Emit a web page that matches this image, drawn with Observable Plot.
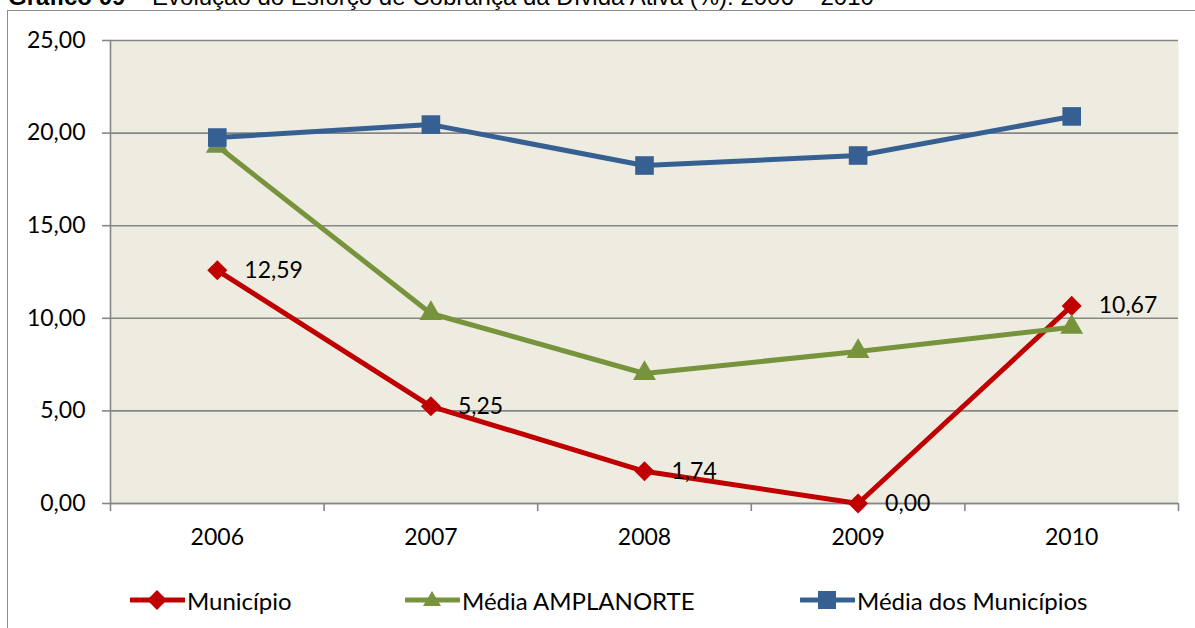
<!DOCTYPE html>
<html><head><meta charset="utf-8">
<script src="https://cdn.jsdelivr.net/npm/d3@7"></script>
<script src="https://cdn.jsdelivr.net/npm/@observablehq/plot@0.6"></script>
<style>
html,body{margin:0;padding:0;background:#fff;}
body{width:1195px;height:628px;overflow:hidden;position:relative;font-family:Lato,"Open Sans",sans-serif;}
#title{position:absolute;left:8px;top:-15px;font-size:24px;line-height:24px;font-family:"Liberation Sans",Arial,sans-serif;white-space:nowrap;color:#000;}
#frame{position:absolute;left:7px;top:10px;width:1300px;height:700px;border:1.5px solid #8c8c8c;}
#chart{position:absolute;left:0;top:0;}
.leg{position:absolute;top:586px;height:28px;display:flex;align-items:center;font-size:24px;color:#000;white-space:nowrap;}
.leg svg{margin-right:2px;}
</style>
</head><body>
<div id="title"><b>Gráfico 09</b> – Evolução do Esforço de Cobrança da Dívida Ativa (%): 2006 – 2010</div>
<div id="frame"></div>
<div id="chart"></div>
<div id="legend"></div>
<script>
const years = [2006, 2007, 2008, 2009, 2010];
const municipio = [12.59, 5.25, 1.74, 0.00, 10.67];
const amplanorte = [19.30, 10.26, 7.02, 8.21, 9.52];
const mediaMunicipios = [19.76, 20.46, 18.25, 18.79, 20.90];
const seriesNames = ["Município", "Média AMPLANORTE", "Média dos Municípios"];
const seriesColors = ["#C00000", "#77933C", "#376092"];
const yTicks = [0, 5, 10, 15, 20, 25];
const xBoundaries = [2005.5, 2006.5, 2007.5, 2008.5, 2009.5, 2010.5];

const fmt = d => d.toFixed(2).replace(".", ",");
const seriesValues = [municipio, amplanorte, mediaMunicipios];
const rows = seriesNames.map((s, k) => years.map((yr, i) => ({year: yr, value: seriesValues[k][i], series: s})));
const grid = "#868686";

const chart = Plot.plot({
  width: 1195, height: 560,
  marginLeft: 110, marginRight: 17, marginTop: 40, marginBottom: 57,
  x: {type: "linear", domain: [2005.5, 2010.5], axis: null},
  y: {domain: [0, 25], axis: null},
  color: {domain: seriesNames, range: seriesColors},
  style: {background: "transparent", fontFamily: "Lato, 'Open Sans', sans-serif", fontSize: "22px", color: "#000", overflow: "visible"},
  marks: [
    Plot.frame({fill: "#EEECE1", stroke: "none"}),
    Plot.gridY(yTicks, {stroke: grid, strokeOpacity: 1, strokeWidth: 1.6}),
    Plot.ruleX([2005.5], {stroke: grid, strokeWidth: 1.6}),
    Plot.ruleY([0], {stroke: grid, strokeWidth: 1.6}),
    Plot.axisY(yTicks, {label: null, tickSize: 8, tickPadding: 17, tickFormat: fmt, stroke: grid, strokeWidth: 1.6, fill: "#000", fontSize: 23}),
    Plot.axisX(xBoundaries, {label: null, tickSize: 8, tickFormat: () => "", stroke: grid, strokeWidth: 1.6}),
    Plot.axisX(years, {label: null, tickSize: 0, tickPadding: 25, tickFormat: d => String(d), stroke: "none", fill: "#000", fontSize: 23}),
    Plot.line(rows[0], {x: "year", y: "value", stroke: "series", strokeWidth: 5}),
    Plot.dot(rows[0], {x: "year", y: "value", fill: "series", symbol: "square", r: 8, rotate: 45}),
    Plot.line(rows[1], {x: "year", y: "value", stroke: "series", strokeWidth: 5}),
    Plot.dot(rows[1], {x: "year", y: "value", fill: "series", symbol: "triangle", r: 8.5}),
    Plot.line(rows[2], {x: "year", y: "value", stroke: "series", strokeWidth: 5}),
    Plot.dot(rows[2], {x: "year", y: "value", fill: "series", symbol: "square", r: 10.5}),
    Plot.text(rows[0], {x: "year", y: "value", text: d => fmt(d.value), dx: 27, textAnchor: "start", fill: "#000", fontSize: 23})
  ]
});
document.getElementById("chart").appendChild(chart);

// legend
const legendLeft = [130, 405, 800];
const legendSymbols = [
  c => `<rect x="20" y="4" width="14" height="14" fill="${c}" transform="rotate(45 27 11)"/>`,
  c => `<path d="M27,2 L36,17 L18,17 Z" fill="${c}"/>`,
  c => `<rect x="18" y="2" width="18" height="18" fill="${c}"/>`
];
const legend = document.getElementById("legend");
seriesNames.forEach((s, k) => {
  const div = document.createElement("div");
  div.className = "leg";
  div.style.left = legendLeft[k] + "px";
  div.innerHTML = `<svg width="55" height="22" viewBox="0 0 55 22"><line x1="1" y1="11" x2="54" y2="11" stroke="${seriesColors[k]}" stroke-width="5" stroke-linecap="round"/>${legendSymbols[k](seriesColors[k])}</svg><span>${s}</span>`;
  legend.appendChild(div);
});
</script>
</body></html>
